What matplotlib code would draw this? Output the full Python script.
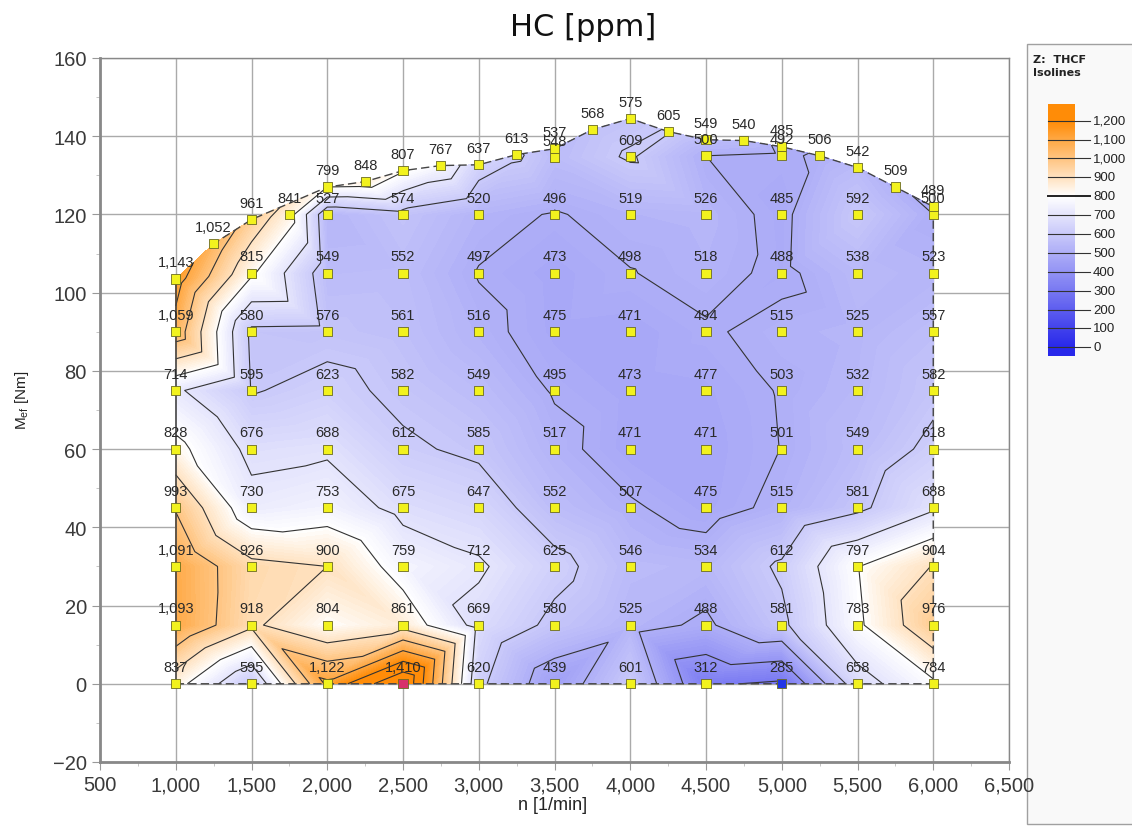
import numpy as np
import matplotlib
matplotlib.use("Agg")
import matplotlib.pyplot as plt
import matplotlib.tri as mtri
from matplotlib.colors import LinearSegmentedColormap, Normalize
from matplotlib.path import Path
from matplotlib.patches import Rectangle
from matplotlib.ticker import FuncFormatter, MultipleLocator

plt.rcParams['font.family'] = ['Liberation Sans', 'DejaVu Sans']

# speed grid [1/min] and torque rows [Nm]
speeds = [1000, 1500, 2000, 2500, 3000, 3500, 4000, 4500, 5000, 5500, 6000]
rows = [0, 15, 30, 45, 60, 75, 90]
# HC values per torque row, n = 1000 ... 6000
hc_0 = [837, 595, 1122, 1410, 620, 439, 601, 312, 285, 658, 784]
hc_15 = [1093, 918, 804, 861, 669, 580, 525, 488, 581, 783, 976]
hc_30 = [1091, 926, 900, 759, 712, 625, 546, 534, 612, 797, 904]
hc_45 = [993, 730, 753, 675, 647, 552, 507, 475, 515, 581, 688]
hc_60 = [828, 676, 688, 612, 585, 517, 471, 471, 501, 549, 618]
hc_75 = [714, 595, 623, 582, 549, 495, 473, 477, 503, 532, 582]
hc_90 = [1059, 580, 576, 561, 516, 475, 471, 494, 515, 525, 557]
hc_rows = [hc_0, hc_15, hc_30, hc_45, hc_60, hc_75, hc_90]

# 105 Nm row (n = 1500 ... 6000)
n_105 = [1500, 2000, 2500, 3000, 3500, 4000, 4500, 5000, 5500, 6000]
hc_105 = [815, 549, 552, 497, 473, 498, 518, 488, 538, 523]
# 120 Nm row
n_120 = [1750, 2000, 2500, 3000, 3500, 4000, 4500, 5000, 5500, 6000]
hc_120 = [841, 527, 574, 520, 496, 519, 526, 485, 592, 500]

# full load curve points
n_full = [1000, 1250, 1500, 2000, 2250, 2500, 2750, 3000, 3250, 3500, 3750,
          4000, 4250, 4500, 4750, 5000, 5250, 5500, 5750, 6000]
m_full = [103.5, 112.5, 118.7, 127.0, 128.4, 131.2, 132.5, 132.7, 135.3, 136.8,
          141.7, 144.5, 141.2, 139.1, 138.9, 137.3, 135.0, 132.0, 127.0, 122.0]
hc_full = [1143, 1052, 961, 799, 848, 807, 767, 637, 613, 537, 568,
           575, 605, 549, 540, 485, 506, 542, 509, 489]
# extra points just under full load
n_extra = [3500, 4000, 4500, 5000]
m_extra = [134.5, 134.8, 135.0, 135.0]
hc_extra = [548, 609, 500, 492]

legend_levels = list(range(0, 1201, 100))

# collect all points
xs, ys, zs = [], [], []
for r, vals in zip(rows, hc_rows):
    xs += speeds
    ys += [r] * len(speeds)
    zs += vals
xs += n_105; ys += [105] * len(n_105); zs += hc_105
xs += n_120; ys += [120] * len(n_120); zs += hc_120
xs += n_full; ys += m_full; zs += hc_full
xs += n_extra; ys += m_extra; zs += hc_extra
xs = np.array(xs, float)
ys = np.array(ys, float)
zs = np.array(zs, float)

# triangulate in normalised coords, then mask outside the map envelope
tri_n = mtri.Triangulation(xs / 500.0, ys / 15.0)
tri = mtri.Triangulation(xs, ys, triangles=tri_n.triangles)
env_x = [1000, 6000] + n_full[::-1]
env_y = [0, 0] + m_full[::-1]
env = Path(np.column_stack([env_x, env_y]))
cx = xs[tri.triangles].mean(axis=1)
cy = ys[tri.triangles].mean(axis=1)
tri.set_mask(~env.contains_points(np.column_stack([cx, cy]), radius=1e-6))

cmap = LinearSegmentedColormap.from_list(
    'hc', [(0.0, (0.16, 0.16, 0.92)),
           (800 / 1200, (1.0, 1.0, 1.0)),
           (1.0, (1.0, 0.55, 0.03))])
cmap.set_over((1.0, 0.55, 0.03))
cmap.set_under((0.16, 0.16, 0.92))
norm = Normalize(0, 1200)

fig = plt.figure(figsize=(11.32, 8.28), dpi=100)

# legend panel background (behind every axes)
fig.patches.append(Rectangle((1027 / 1132, 3 / 828), 110 / 1132, 780 / 828,
                             transform=fig.transFigure, facecolor='#f9f9f9',
                             edgecolor='#a0a0a0', lw=1.0, zorder=-5))

ax = fig.add_axes([100 / 1132, 1 - 763 / 828, 909 / 1132, 704 / 828])
ax.patch.set_alpha(0)

ax.tricontourf(tri, zs, levels=np.linspace(0, 1500, 151), cmap=cmap, norm=norm,
               extend='both', zorder=2)
ax.tricontour(tri, zs, levels=np.arange(100, 1500, 100), colors='#333333',
              linewidths=0.8, zorder=3)

# envelope line: dashed top and bottom, solid left side
ax.plot(env_x[:-1], env_y[:-1], color='#444444', lw=1.0,
        ls=(0, (6, 3)), zorder=4)
ax.plot([1000, 1000], [0, m_full[0]], color='#444444', lw=1.2, zorder=4)

# points and labels
imax = np.argmax(zs)
imin = np.argmin(zs)
face = ['#f2f21e'] * len(zs)
face[imax] = '#d8306a'
face[imin] = '#2236e6'
ax.scatter(xs, ys, s=44, marker='s', c=face, edgecolors='#6b6b20',
           linewidths=0.6, zorder=5)
for x, y, z in zip(xs, ys, zs):
    ax.annotate(f"{int(z):,}", (x, y), xytext=(0, 12), textcoords='offset points',
                ha='center', va='center', fontsize=10.5, color='#2a2a2a', zorder=6)

ax.set_xlim(500, 6500)
ax.set_ylim(-20, 160)
ax.xaxis.set_major_locator(MultipleLocator(500))
ax.xaxis.set_minor_locator(MultipleLocator(250))
ax.yaxis.set_major_locator(MultipleLocator(20))
ax.yaxis.set_minor_locator(MultipleLocator(10))
ax.xaxis.set_major_formatter(FuncFormatter(lambda v, p: f"{int(v):,}"))
ax.grid(True, which='major', color='#aaaaaa', lw=1.0, zorder=0)
ax.set_axisbelow(True)
for s in ax.spines.values():
    s.set_color('#888888')
    s.set_linewidth(1.0)
for s in ['left', 'bottom']:
    ax.spines[s].set_linewidth(2.0)
ax.tick_params(which='major', length=6, color='#999999', labelsize=14.5,
               labelcolor='#3a3a3a')
ax.tick_params(which='minor', length=3, color='#bbbbbb')

fig.text(583 / 1132, 1 - 27 / 828, "HC [ppm]", ha='center', va='center',
         fontsize=22, family='DejaVu Sans', color='#111111')
fig.text(553 / 1132, 1 - 806 / 828, "n [1/min]", ha='center', va='center',
         fontsize=13, color='#222222')
fig.text(22 / 1132, 1 - 400 / 828, r"M$_\mathregular{ef}$ [Nm]", ha='center',
         va='center', rotation=90, fontsize=11, color='#222222')

fig.text(1033 / 1132, 1 - 60 / 828, "Z:  THCF", fontsize=8, weight='bold',
         va='center', color='#222222', family='DejaVu Sans')
fig.text(1033 / 1132, 1 - 73 / 828, "Isolines", fontsize=8, weight='bold',
         va='center', color='#222222', family='DejaVu Sans')

lax = fig.add_axes([1045 / 1132, 1 - 362 / 828, 87 / 1132, 262 / 828])
lax.set_xlim(1045, 1132)
lax.set_ylim(-72.6, 1315)
lax.axis('off')
grad = np.linspace(-46, 1288, 300)[:, None]
lax.imshow(grad, extent=(1048, 1075, -46, 1288), origin='lower', aspect='auto',
           cmap=cmap, norm=norm, interpolation='bilinear')
for lv in legend_levels:
    lax.plot([1048, 1090], [lv, lv], color='#222222' if lv == 800 else '#333333',
             lw=1.4 if lv == 800 else 0.8)
    lax.text(1093, lv, f"{lv:,}", va='center', ha='left', fontsize=9.5,
             color='#222222')

fig.savefig("out.png", dpi=100)
